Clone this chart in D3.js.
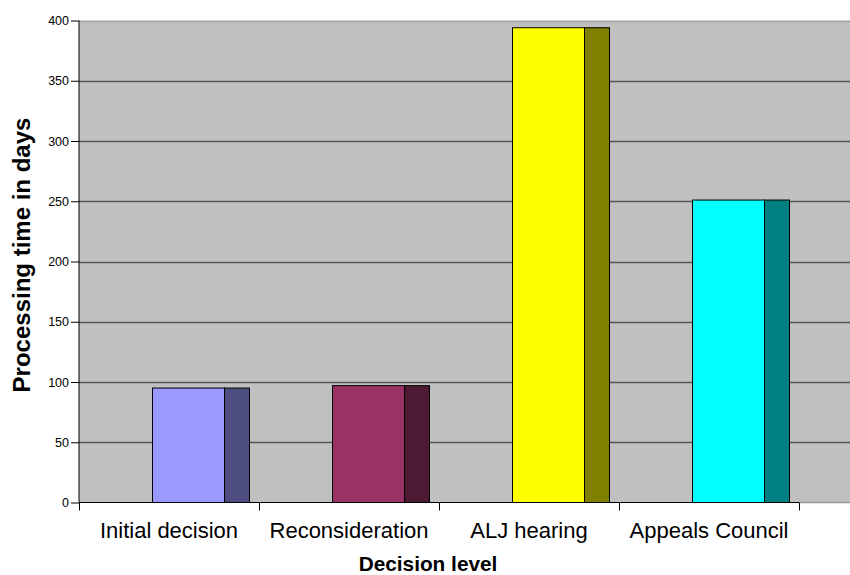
<!DOCTYPE html>
<html>
<head>
<meta charset="utf-8">
<script src="https://cdn.jsdelivr.net/npm/d3@7"></script>
<style>
  html, body { margin: 0; padding: 0; background: #fff; }
  svg { display: block; font-family: Arial, "Liberation Sans", sans-serif; }
</style>
</head>
<body>
<svg id="chart" width="850" height="575"></svg>
<script>
const categories = ["Initial decision", "Reconsideration", "ALJ hearing", "Appeals Council"];
const values = [95, 97, 394, 251];
const frontColors = ["#9999ff", "#993366", "#ffff00", "#00ffff"];
const sideColors = ["#4d4d80", "#4d1a33", "#808000", "#008080"];
const yTicks = [0, 50, 100, 150, 200, 250, 300, 350, 400];
const yTitle = "Processing time in days";
const xTitle = "Decision level";

const svg = d3.select("#chart");
const pLeft = 79, pRight = 799, plotRight = 850, pTop = 20.5, pBottom = 502.5;

const x = d3.scaleBand().domain(categories).range([pLeft, pRight]).padding(0);
const y = d3.scaleLinear().domain([0, 400]).range([pBottom, pTop]);

// plot background
svg.append("rect").attr("x", pLeft).attr("y", pTop).attr("width", plotRight - pLeft).attr("height", pBottom - pTop).attr("fill", "#c0c0c0");

// gridlines
svg.append("g").selectAll("line").data(yTicks.filter(d => d > 0)).join("line")
  .attr("x1", pLeft).attr("x2", plotRight)
  .attr("y1", d => Math.round(y(d)) + 0.5).attr("y2", d => Math.round(y(d)) + 0.5)
  .attr("stroke", d => d === 400 ? "#a6a6a6" : "#555555")
  .attr("stroke-width", 1.5);

// bars
const bw = x.bandwidth();
const fOff = 73 / 180, fW = 72 / 180, sW = 25 / 180;
const bars = svg.append("g").selectAll("g").data(categories).join("g");
bars.append("rect")
  .attr("x", d => x(d) + bw * fOff + 0.5)
  .attr("y", (d, i) => y(values[i]))
  .attr("width", bw * fW)
  .attr("height", (d, i) => y(0) - y(values[i]))
  .attr("fill", (d, i) => frontColors[i])
  .attr("stroke", "#000").attr("stroke-width", 1);
bars.append("rect")
  .attr("x", d => x(d) + bw * (fOff + fW) + 0.5)
  .attr("y", (d, i) => y(values[i]))
  .attr("width", bw * sW)
  .attr("height", (d, i) => y(0) - y(values[i]))
  .attr("fill", (d, i) => sideColors[i])
  .attr("stroke", "#000").attr("stroke-width", 1);

// x axis extension (grey) beyond category axis
svg.append("line").attr("x1", pRight).attr("x2", plotRight).attr("y1", pBottom).attr("y2", pBottom)
  .attr("stroke", "#999").attr("stroke-width", 1.5);

// y axis
const yAxis = d3.axisLeft(y).tickValues(yTicks).tickSize(8).tickPadding(2).tickFormat(d3.format("d"));
const gy = svg.append("g").attr("transform", `translate(${pLeft},0)`).call(yAxis);
gy.select(".domain").attr("stroke", "#000").attr("d", `M0,${pTop}V${pBottom}`);
gy.selectAll(".tick line").attr("stroke", "#000");
gy.selectAll(".tick text").attr("font-size", "12.5px").attr("fill", "#000")
  .attr("font-family", "Arial, 'Liberation Sans', sans-serif");

// x axis
const xAxis = d3.axisBottom(x).tickSize(0).tickPadding(0);
const gx = svg.append("g").attr("transform", `translate(0,${pBottom})`).call(xAxis);
gx.select(".domain").attr("stroke", "#000").attr("d", `M${pLeft},0H${pRight}`);
gx.selectAll(".tick text").attr("font-size", "22px").attr("fill", "#000")
  .attr("font-family", "Arial, 'Liberation Sans', sans-serif")
  .attr("dy", null).attr("y", 35.5);
// category separator ticks
const bounds = categories.map(d => x(d)).concat([pRight]);
svg.append("g").selectAll("line").data(bounds).join("line")
  .attr("x1", d => d + 0.5).attr("x2", d => d + 0.5)
  .attr("y1", pBottom).attr("y2", pBottom + 8)
  .attr("stroke", "#000").attr("stroke-width", 1);

// titles
svg.append("text").attr("x", 428).attr("y", 571).attr("text-anchor", "middle")
  .attr("font-size", "20.8px").attr("font-weight", "bold").attr("fill", "#000").text(xTitle);
svg.append("text").attr("transform", "translate(30,255) rotate(-90)").attr("text-anchor", "middle")
  .attr("font-size", "24px").attr("font-weight", "bold").attr("fill", "#000").text(yTitle);
</script>
</body>
</html>
